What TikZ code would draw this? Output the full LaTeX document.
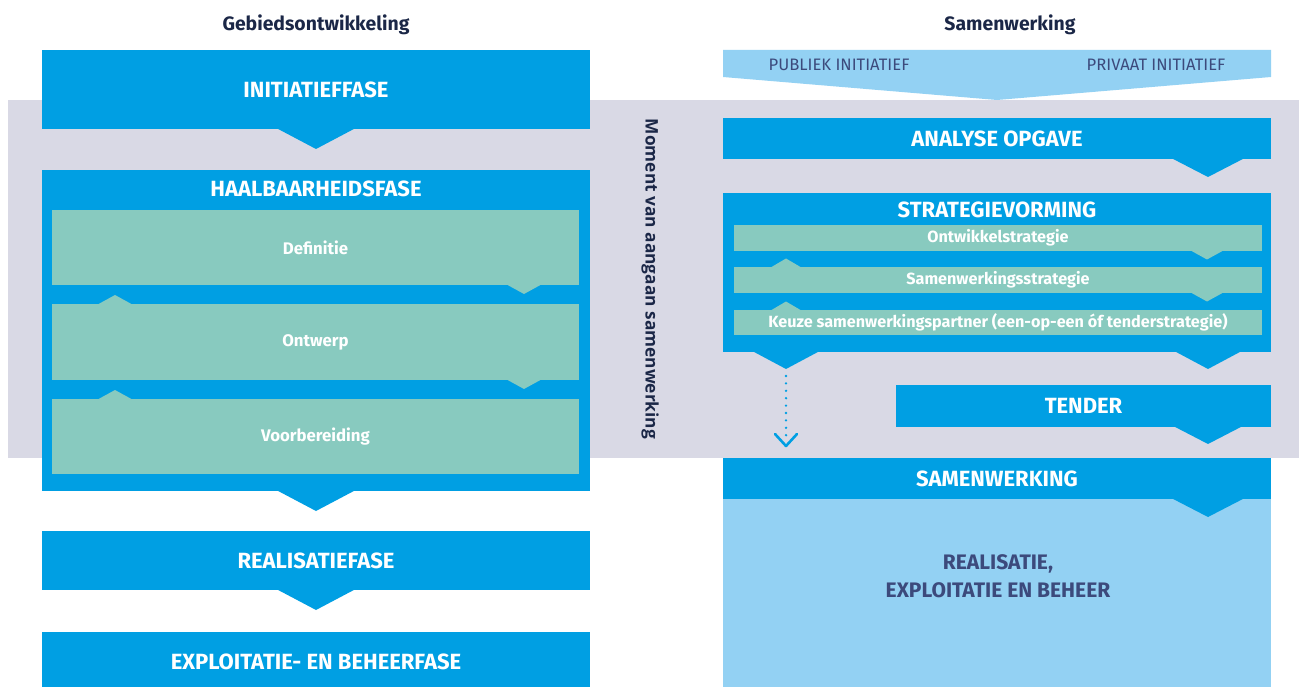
\documentclass[tikz,border=0pt]{standalone}
\usepackage{fontspec}
\setmainfont{Fira Sans}
\newfontfamily\hfont{Fira Sans}
\newfontfamily\vfont{Open Sans}
\usetikzlibrary{calc}
\definecolor{cblue}{HTML}{009FE3}
\definecolor{clight}{HTML}{93D1F3}
\definecolor{cteal}{HTML}{88CABF}
\definecolor{cgrey}{HTML}{D9D9E5}
\definecolor{cnavy}{HTML}{1B2747}
\definecolor{cslate}{HTML}{3C4A7C}
\newcommand\chev[4]{\fill[#1] ($(#2)+(-#3,-0.6)$) -- ($(#2)+(#3,-0.6)$) -- ($(#2)+(0,#4)$) -- cycle;}
\newcommand\chevup[4]{\fill[#1] ($(#2)+(-#3,0.6)$) -- ($(#2)+(#3,0.6)$) -- ($(#2)+(0,-#4)$) -- cycle;}
\tikzset{
  boxbase/.style={inner sep=0pt, outer sep=0pt, anchor=north west},
  phase/.style={boxbase, fill=cblue, text=white, font=\hfont\bfseries\fontsize{22}{22}\selectfont},
  subphase/.style={boxbase, fill=cteal, text=white, font=\hfont\bfseries\fontsize{16.8}{16.8}\selectfont},
  substrat/.style={boxbase, fill=cteal, text=white, font=\hfont\bfseries\fontsize{16.2}{16.2}\selectfont},
  headlbl/.style={text=white, inner sep=0pt, font=\hfont\bfseries\fontsize{22}{22}\selectfont},
  coltitle/.style={text=cnavy, inner sep=0pt, font=\hfont\bfseries\fontsize{19.4}{19.4}\selectfont},
  lightlbl/.style={text=cslate, inner sep=0pt, font=\hfont\fontsize{16.6}{16.6}\selectfont},
  bigdark/.style={text=cslate, inner sep=0pt, font=\hfont\bfseries\fontsize{21}{21}\selectfont},
  dotline/.style={cblue, line width=2.6pt, line cap=round, dash pattern=on 0pt off 7.4pt},
  headline/.style={cblue, line width=2.6pt, line cap=round, line join=round}
}
\begin{document}
\begin{tikzpicture}[x=1pt,y=-1pt]
\useasboundingbox (0,0) rectangle (1299,687);
% grey band
\fill[cgrey] (8,100) rectangle (1299,458);
% titles
\node[coltitle] (t1) at (316,25) {Gebiedsontwikkeling};
\node[coltitle] (t2) at (1010,25) {Samenwerking};
% ---------------- left column
\node[phase, minimum width=548, minimum height=79] (init) at (42,50) {INITIATIEFFASE};
\chev{cblue}{init.south}{39}{20}
\node[phase, minimum width=548, minimum height=321] (haal) at (42,170) {};
\node[headlbl] (haallbl) at (316,189) {HAALBAARHEIDSFASE};
\chev{cblue}{haal.south}{39}{20}
\node[subphase, minimum width=527, minimum height=75] (def) at (52,210) {Definitie};
\node[subphase, minimum width=527, minimum height=76] (ontw) at (52,304) {Ontwerp};
\node[subphase, minimum width=527, minimum height=75] (voor) at (52,399) {Voorbereiding};
\coordinate (d1) at ($(def.south east)+(-55,0)$);
\coordinate (d2) at ($(ontw.south east)+(-55,0)$);
\coordinate (u1) at ($(ontw.north west)+(63,0)$);
\coordinate (u2) at ($(voor.north west)+(63,0)$);
\chev{cteal}{d1}{17.5}{9}
\chev{cteal}{d2}{17.5}{9}
\chevup{cteal}{u1}{17.5}{9}
\chevup{cteal}{u2}{17.5}{9}
\node[phase, minimum width=548, minimum height=59] (real) at (42,531) {REALISATIEFASE};
\chev{cblue}{real.south}{39}{20}
\node[phase, minimum width=548, minimum height=60] (expl) at (42,632) {EXPLOITATIE- EN BEHEERFASE};
% vertical label
\node[rotate=-90, text=cnavy, inner sep=0pt, font=\vfont\bfseries\fontsize{17.3}{17.3}\selectfont] (moment) at (650,279) {Moment van aangaan samenwerking};
% ---------------- right column
\fill[clight] (723,50) -- (1271,50) -- (1271,77) -- (997,100) -- (723,77) -- cycle;
\node[lightlbl] (pub) at (839,65) {PUBLIEK INITIATIEF};
\node[lightlbl] (priv) at (1156,65) {PRIVAAT INITIATIEF};
\node[phase, minimum width=548, minimum height=41] (anal) at (723,118) {ANALYSE OPGAVE};
\coordinate (a1) at ($(anal.south east)+(-63,0)$);
\chev{cblue}{a1}{36}{18}
\node[phase, minimum width=548, minimum height=159] (strat) at (723,193) {};
\node[headlbl] (stratlbl) at (997,210) {STRATEGIEVORMING};
\node[substrat, minimum width=528, minimum height=26] (os) at (734,225) {Ontwikkelstrategie};
\node[substrat, minimum width=528, minimum height=26] (ss) at (734,267) {Samenwerkingsstrategie};
\node[substrat, minimum width=528, minimum height=25] (ks) at (734,310) {Keuze samenwerkingspartner (een-op-een óf tenderstrategie)};
\coordinate (sd1) at ($(os.south east)+(-55,0)$);
\coordinate (sd2) at ($(ss.south east)+(-55,0)$);
\coordinate (su1) at ($(ss.north west)+(52,0)$);
\coordinate (su2) at ($(ks.north west)+(52,0)$);
\chev{cteal}{sd1}{16.5}{8.5}
\chev{cteal}{sd2}{16.5}{8.5}
\chevup{cteal}{su1}{15.5}{8.5}
\chevup{cteal}{su2}{15.5}{8.5}
\coordinate (sl) at ($(strat.south west)+(63,0)$);
\coordinate (sr) at ($(strat.south east)+(-63,0)$);
\chev{cblue}{sl}{33}{17}
\chev{cblue}{sr}{33}{17}
\node[phase, minimum width=375, minimum height=42] (tender) at (896,385) {TENDER};
\coordinate (te) at ($(tender.south east)+(-63,0)$);
\chev{cblue}{te}{34}{17}
% samenwerking + realisatie
\fill[clight] (723,499) rectangle (1271,687);
\node[bigdark, align=center] (rexp) at (998,576) {REALISATIE,\\[7pt]EXPLOITATIE EN BEHEER};
\node[phase, minimum width=548, minimum height=41] (samen) at (723,458) {SAMENWERKING};
\coordinate (sa) at ($(samen.south east)+(-63,0)$);
\chev{cblue}{sa}{36}{18}
% dotted arrow
\coordinate (dend) at ($(samen.north west)+(63,-12)$);
\draw[dotline] ($(sl)+(0,24)$) -- ($(dend)+(0,-8)$);
\draw[headline] ($(dend)+(-11,-12)$) -- (dend) -- ($(dend)+(11,-12)$);
\end{tikzpicture}
\end{document}
